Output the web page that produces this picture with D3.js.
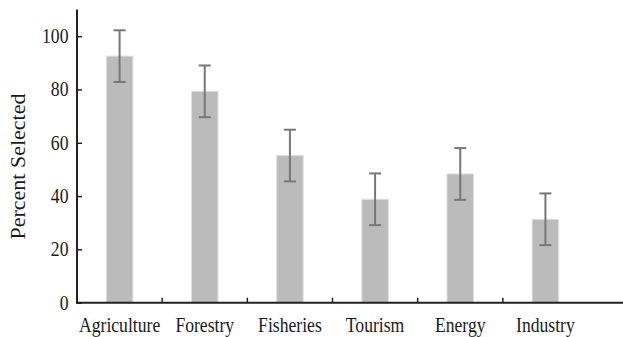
<!DOCTYPE html>
<html>
<head>
<meta charset="utf-8">
<script src="https://cdn.jsdelivr.net/npm/d3@7"></script>
<style>
  html, body { margin: 0; padding: 0; background: #fff; }
  svg { display: block; }
</style>
</head>
<body>
<svg id="chart" width="623" height="337"></svg>
<script>
// Share of respondents selecting each sector, with error margins
const categories = ["Agriculture", "Forestry", "Fisheries", "Tourism", "Energy", "Industry"];
const percentSelected = [92.5, 79.3, 55.2, 38.8, 48.3, 31.3];
const errorMargin = [9.7, 9.7, 9.7, 9.7, 9.7, 9.7];
const yTicks = [0, 20, 40, 60, 80, 100];
const yLabel = "Percent Selected";

const FONT = "'Liberation Serif', 'Times New Roman', serif";
const svg = d3.select("#chart").attr("font-family", FONT);
const W = 623, H = 337;
const plot = { left: 77, right: 588, top: 9.5, bottom: 302.7 };

const x = d3.scaleBand().domain(categories).range([plot.left, plot.right]).padding(0);
const y = d3.scaleLinear().domain([0, 110]).range([plot.bottom, plot.top]);
const barW = 26.5;
const capW = 12;
const xScaleText = 0.82;

// bars
svg.append("g").selectAll("rect")
  .data(categories)
  .join("rect")
  .attr("x", d => x(d) + x.bandwidth() / 2 - barW / 2)
  .attr("width", barW)
  .attr("y", (d, i) => y(percentSelected[i]))
  .attr("height", (d, i) => y(0) - y(percentSelected[i]))
  .attr("fill", "#bbbbbb")
  .attr("stroke", "#dedede")
  .attr("stroke-width", 1);

// error bars
const eb = svg.append("g").attr("stroke", "#777").attr("stroke-width", 2).attr("fill", "none");
categories.forEach((c, i) => {
  const cx = x(c) + x.bandwidth() / 2;
  const hi = y(percentSelected[i] + errorMargin[i]);
  const lo = y(percentSelected[i] - errorMargin[i]);
  eb.append("line").attr("x1", cx).attr("x2", cx).attr("y1", hi).attr("y2", lo);
  eb.append("line").attr("x1", cx - capW / 2).attr("x2", cx + capW / 2).attr("y1", hi).attr("y2", hi);
  eb.append("line").attr("x1", cx - capW / 2).attr("x2", cx + capW / 2).attr("y1", lo).attr("y2", lo);
});

// y axis: ticks point inward
const yAxis = d3.axisRight(y).tickValues(yTicks).tickSize(5).tickFormat("");
const gy = svg.append("g").attr("transform", `translate(${plot.left},0)`).call(yAxis);
gy.select(".domain").remove();
gy.selectAll(".tick line").attr("stroke", "#222").attr("stroke-width", 1.5);
svg.append("line")
  .attr("x1", plot.left).attr("x2", plot.left)
  .attr("y1", plot.top).attr("y2", plot.bottom + 1)
  .attr("stroke", "#222").attr("stroke-width", 2);

yTicks.forEach(v => {
  svg.append("text")
    .attr("transform", `translate(68.5,${y(v) + 7}) scale(${xScaleText},1)`)
    .attr("text-anchor", "end")
    .attr("font-family", FONT)
    .attr("font-size", 21.5)
    .attr("fill", "#1a1a1a")
    .text(v);
});

// x axis: ticks between categories, pointing up
svg.append("line")
  .attr("x1", plot.left - 1).attr("x2", W)
  .attr("y1", plot.bottom).attr("y2", plot.bottom)
  .attr("stroke", "#222").attr("stroke-width", 2);
svg.append("g").selectAll("line")
  .data(categories.slice(1))
  .join("line")
  .attr("x1", d => x(d)).attr("x2", d => x(d))
  .attr("y1", plot.bottom).attr("y2", plot.bottom - 5)
  .attr("stroke", "#222").attr("stroke-width", 1.5);

svg.append("g").selectAll("text")
  .data(categories)
  .join("text")
  .attr("transform", d => `translate(${x(d) + x.bandwidth() / 2},331.5) scale(${xScaleText},1)`)
  .attr("text-anchor", "middle")
  .attr("font-family", FONT)
  .attr("font-size", 21.5)
  .attr("fill", "#1a1a1a")
  .text(d => d);

// y axis title
svg.append("text")
  .attr("transform", `translate(25,166.5) rotate(-90)`)
  .attr("text-anchor", "middle")
  .attr("font-family", FONT)
  .attr("font-size", 22)
  .attr("fill", "#1a1a1a")
  .text(yLabel);
</script>
</body>
</html>
